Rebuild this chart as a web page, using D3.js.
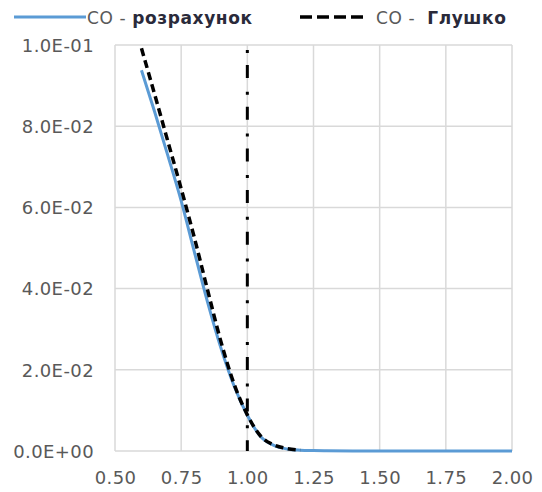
<!DOCTYPE html>
<html>
<head>
<meta charset="utf-8">
<script src="https://cdn.jsdelivr.net/npm/d3@7"></script>
<style>
  html, body { margin: 0; padding: 0; background: #ffffff; }
  svg { display: block; }
  text { font-family: "DejaVu Sans", sans-serif; }
</style>
</head>
<body>
<svg id="chart" width="542" height="492"></svg>
<script>
// CO mole fraction versus excess-air ratio
const xCalc = [0.60, 0.65, 0.70, 0.75, 0.80, 0.85, 0.90, 0.95, 1.00, 1.05, 1.10, 1.15, 1.20, 1.25, 1.30, 1.40, 1.50, 1.60, 1.70, 1.80, 1.90, 2.00];
const coCalc = [0.0938, 0.0835, 0.0727, 0.0616, 0.0490, 0.0366, 0.0254, 0.0160, 0.0088, 0.0036, 0.0014, 0.0005, 0.0002, 0.0001, 0.00005, 0, 0, 0, 0, 0, 0, 0];

const xRef = [0.60, 0.65, 0.70, 0.75, 0.80, 0.85, 0.90, 0.95, 1.00, 1.05, 1.10, 1.15, 1.20];
const coRef = [0.0992, 0.0878, 0.0762, 0.0646, 0.0525, 0.0396, 0.0270, 0.0165, 0.0089, 0.0037, 0.0015, 0.0006, 0.0002];

// stoichiometric marker (alpha = 1)
const xStoich = [1.0, 1.0];
const yStoich = [0.1, 0.0];

const xTicks = [0.50, 0.75, 1.00, 1.25, 1.50, 1.75, 2.00];
const xTickLabels = ["0.50", "0.75", "1.00", "1.25", "1.50", "1.75", "2.00"];
const yTicks = [0, 0.02, 0.04, 0.06, 0.08, 0.10];
const yTickLabels = ["0.0E+00", "2.0E-02", "4.0E-02", "6.0E-02", "8.0E-02", "1.0E-01"];

const seriesNames = ["CO - ", "розрахунок", "CO -  ", "Глушко"];

const svg = d3.select("#chart");
const plot = { left: 115, right: 512, top: 45, bottom: 451 };

const x = d3.scaleLinear().domain([0.5, 2.0]).range([plot.left, plot.right]);
const y = d3.scaleLinear().domain([0, 0.1]).range([plot.bottom, plot.top]);

const gridColor = "#d9d9d9";
const labelColor = "#595959";

// gridlines
const grid = svg.append("g");
grid.selectAll("line.v").data(xTicks).join("line")
  .attr("x1", d => x(d)).attr("x2", d => x(d))
  .attr("y1", plot.top).attr("y2", plot.bottom)
  .attr("stroke", gridColor).attr("stroke-width", 1.5);
grid.selectAll("line.h").data(yTicks).join("line")
  .attr("x1", plot.left).attr("x2", plot.right)
  .attr("y1", d => y(d)).attr("y2", d => y(d))
  .attr("stroke", gridColor).attr("stroke-width", 1.5);

// axes (labels only, Excel style)
const xAxis = d3.axisBottom(x).tickValues(xTicks)
  .tickFormat((d, i) => xTickLabels[i]).tickSize(0).tickPadding(0);
const gx = svg.append("g").attr("transform", `translate(0,${plot.bottom})`).call(xAxis);
gx.select(".domain").remove();
gx.selectAll("text")
  .attr("y", 27).attr("dy", "0.35em")
  .attr("fill", labelColor).attr("font-size", 18)
  .attr("letter-spacing", 0.4)
  .style("font-family", "DejaVu Sans, sans-serif");

const yAxis = d3.axisLeft(y).tickValues(yTicks)
  .tickFormat((d, i) => yTickLabels[i]).tickSize(0).tickPadding(0);
const gy = svg.append("g").attr("transform", `translate(${plot.left},0)`).call(yAxis);
gy.select(".domain").remove();
gy.selectAll("text")
  .attr("x", -21).attr("dy", "0.35em")
  .attr("fill", labelColor).attr("font-size", 18)
  .attr("letter-spacing", 0.4)
  .style("font-family", "DejaVu Sans, sans-serif");

// series
const line = d3.line().x(d => x(d[0])).y(d => y(d[1])).curve(d3.curveMonotoneX);

svg.append("path")
  .datum(xCalc.map((v, i) => [v, coCalc[i]]))
  .attr("d", line)
  .attr("fill", "none").attr("stroke", "#5b9bd5").attr("stroke-width", 3)
  .attr("stroke-linejoin", "round");

svg.append("path")
  .datum(xRef.map((v, i) => [v, coRef[i]]))
  .attr("d", line)
  .attr("fill", "none").attr("stroke", "#000000").attr("stroke-width", 3.5)
  .attr("stroke-dasharray", "8,4.5");

svg.append("path")
  .datum(xStoich.map((v, i) => [v, yStoich[i]]))
  .attr("d", d3.line().x(d => x(d[0])).y(d => y(d[1])))
  .attr("fill", "none").attr("stroke", "#000000").attr("stroke-width", 3)
  .attr("stroke-dasharray", "13,13.7,3,12")
  .attr("stroke-dashoffset", 21.7);

// legend
const legend = svg.append("g");
legend.append("line")
  .attr("x1", 14).attr("x2", 86).attr("y1", 17).attr("y2", 17)
  .attr("stroke", "#5b9bd5").attr("stroke-width", 3);
const t1 = legend.append("text").attr("x", 87).attr("y", 18).attr("dy", "0.35em")
  .attr("font-size", 17).attr("letter-spacing", 0.6);
t1.append("tspan").attr("fill", labelColor).text(seriesNames[0]);
t1.append("tspan").attr("fill", "#2a2a3a").attr("font-weight", "bold").text(seriesNames[1]);

legend.append("line")
  .attr("x1", 300).attr("x2", 363).attr("y1", 17).attr("y2", 17)
  .attr("stroke", "#000000").attr("stroke-width", 3.5)
  .attr("stroke-dasharray", "12,5");
const t2 = legend.append("text").attr("x", 376).attr("y", 18).attr("dy", "0.35em")
  .attr("font-size", 17).attr("letter-spacing", 0.6)
  .attr("xml:space", "preserve").style("white-space", "pre");
t2.append("tspan").attr("fill", labelColor).text(seriesNames[2]);
t2.append("tspan").attr("fill", "#2a2a3a").attr("font-weight", "bold").text(seriesNames[3]);
</script>
</body>
</html>
